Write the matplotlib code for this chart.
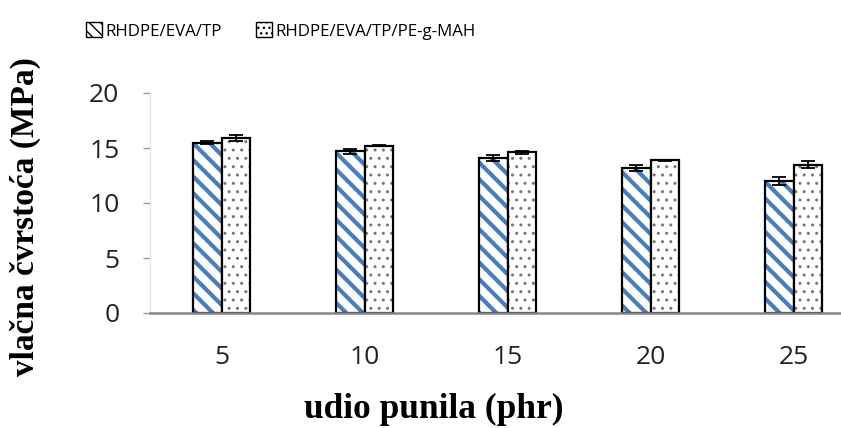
import matplotlib.pyplot as plt
import matplotlib.patches as mpatches
import numpy as np

# udio punila (phr)
categories = ['5', '10', '15', '20', '25']
tp = [15.5, 14.7, 14.1, 13.2, 12.0]
tp_err = [0.1, 0.25, 0.3, 0.25, 0.35]
tp_mah = [15.9, 15.2, 14.6, 13.9, 13.5]
tp_mah_err = [0.3, 0.05, 0.15, 0.05, 0.3]
labels = ['RHDPE/EVA/TP', 'RHDPE/EVA/TP/PE-g-MAH']

blue = '#4a7ebb'
x = np.arange(len(categories))
w = 0.2

fig = plt.figure(figsize=(8.41, 4.28), dpi=100)
ax = fig.add_axes([150 / 841, 115 / 428, 715 / 841, 220 / 428])

# prugasti stupci
with plt.rc_context({'hatch.linewidth': 3.0, 'hatch.color': blue}):
    ax.bar(x - w / 2, tp, w, color='white', edgecolor=blue, hatch='\\\\', linewidth=0)
ax.bar(x - w / 2, tp, w, color='none', edgecolor='black', linewidth=1.6)

# tockasti stupci
with plt.rc_context({'hatch.linewidth': 1.0, 'hatch.color': '#666666'}):
    ax.bar(x + w / 2, tp_mah, w, color='white', edgecolor='#777777', hatch='..', linewidth=0)
ax.bar(x + w / 2, tp_mah, w, color='none', edgecolor='black', linewidth=1.6)

ax.errorbar(x - w / 2, tp, yerr=tp_err, fmt='none', ecolor='black', capsize=5, elinewidth=1.3, capthick=1.3)
ax.errorbar(x + w / 2, tp_mah, yerr=tp_mah_err, fmt='none', ecolor='black', capsize=5, elinewidth=1.3, capthick=1.3)

ax.set_xlim(-0.5, 4.5)
ax.set_ylim(0, 20)
ax.set_yticks([0, 5, 10, 15, 20])
ax.set_xticks(x)
ax.set_xticklabels(categories)
for s in ['top', 'right']:
    ax.spines[s].set_visible(False)
ax.spines['left'].set_color('#e4e4e4')
ax.spines['left'].set_linewidth(0.8)
ax.spines['bottom'].set_color('#868686')
ax.spines['bottom'].set_linewidth(1.8)
ax.tick_params(axis='x', length=0, labelsize=19, pad=23, labelcolor='#222222')
ax.tick_params(axis='y', length=5, width=1.0, color='#999999', labelsize=19, pad=17, labelcolor='#222222')
for t in ax.get_xticklabels() + ax.get_yticklabels():
    t.set_family('Open Sans')

fig.text(434 / 841, 1 - 409 / 428, 'udio punila (phr)', ha='center', va='center',
         fontsize=25.5, fontweight='bold', family='Liberation Serif')
fig.text(25 / 841, 1 - 217 / 428, 'vlačna čvrstoća (MPa)', ha='center', va='center',
         rotation=90, fontsize=24, fontweight='bold', family='Liberation Serif')

with plt.rc_context({'hatch.linewidth': 1.5, 'hatch.color': blue}):
    h1 = mpatches.Patch(facecolor='white', edgecolor='black', hatch='\\\\\\', linewidth=1.0)
with plt.rc_context({'hatch.linewidth': 0.8}):
    h2 = mpatches.Patch(facecolor='white', edgecolor='black', hatch='...', linewidth=1.0)
fig.legend([h1, h2], labels, loc='center left', bbox_to_anchor=(71 / 841, 1 - 31 / 428),
           ncol=2, frameon=False, handlelength=0.95, handleheight=0.95, handletextpad=0.2,
           columnspacing=2.0, prop={'family': 'Open Sans', 'size': 12.2})

fig.savefig('out.png', dpi=100)
